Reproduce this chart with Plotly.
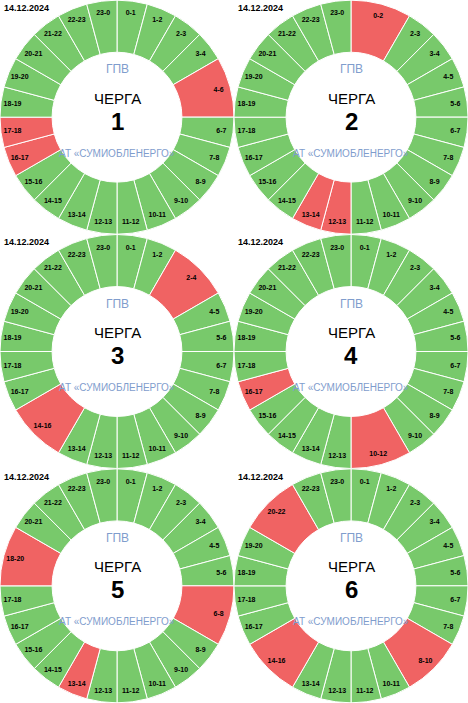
import plotly.graph_objects as go

# schedule for 14.12.2024, outage intervals per queue (label = "start-end" hour)
date_label = "14.12.2024"
queue_names = ["1", "2", "3", "4", "5", "6"]

q1_off = ["4-6", "16-17", "17-18"]
q2_off = ["0-2", "12-13", "13-14"]
q3_off = ["2-4", "14-16"]
q4_off = ["10-12", "16-17"]
q5_off = ["6-8", "13-14", "18-20"]
q6_off = ["8-10", "14-16", "20-22"]
all_off = [q1_off, q2_off, q3_off, q4_off, q5_off, q6_off]

title_top = "ГПВ"
title_mid = "ЧЕРГА"
title_bottom = "АТ «СУМИОБЛЕНЕРГО»"

GREEN = "#78c96b"
RED = "#f06363"
BLUE = "#7f9dcd"
FONT = "Liberation Sans, Arial"


def build_slices(off):
    starts = {int(s.split("-")[0]): s for s in off}
    labels, values, colors = [], [], []
    h = 0
    while h < 24:
        if h in starts:
            lab = starts[h]
            a, b = [int(v) for v in lab.split("-")]
            labels.append(lab)
            values.append(b - a)
            colors.append(RED)
            h = b
        else:
            labels.append("%d-%d" % (h, (h + 1) % 24))
            values.append(1)
            colors.append(GREEN)
            h += 1
    return labels, values, colors


fig = go.Figure()
annotations = []
for i, (name, off) in enumerate(zip(queue_names, all_off)):
    col, row = i % 2, i // 2
    dom_x = [col * 0.5, col * 0.5 + 0.5]
    dom_y = [1 - (row + 1) / 3, 1 - row / 3]
    labels, values, colors = build_slices(off)

    # coloured ring
    fig.add_trace(
        go.Pie(
            labels=labels,
            values=values,
            domain=dict(x=dom_x, y=dom_y),
            hole=0.555,
            sort=False,
            direction="clockwise",
            rotation=0,
            marker=dict(colors=colors, line=dict(color="white", width=1)),
            textinfo="none",
            showlegend=False,
            hoverinfo="label",
        )
    )
    # outer thin ring only used to place the hour labels near the rim
    fig.add_trace(
        go.Pie(
            labels=labels,
            values=values,
            text=labels,
            domain=dict(x=dom_x, y=dom_y),
            hole=0.8,
            sort=False,
            direction="clockwise",
            rotation=0,
            marker=dict(colors=["rgba(0,0,0,0)"] * len(labels), line=dict(width=0)),
            textinfo="text",
            textposition="inside",
            insidetextorientation="horizontal",
            textfont=dict(size=7, color="black", family=FONT, weight="bold"),
            showlegend=False,
            hoverinfo="skip",
        )
    )

    cx = (dom_x[0] + dom_x[1]) / 2
    cy = (dom_y[0] + dom_y[1]) / 2
    center_txt = [
        (title_top, 48, dict(size=12, color=BLUE, family=FONT)),
        (title_mid, 19, dict(size=15, color="black", family=FONT)),
        (name, -4, dict(size=24, color="black", family=FONT, weight="bold")),
        (title_bottom, -36, dict(size=10, color=BLUE, family=FONT)),
    ]
    for txt, shift, font in center_txt:
        annotations.append(
            dict(x=cx, y=cy, xref="paper", yref="paper", text=txt, showarrow=False,
                 yshift=shift, font=font, xanchor="center", yanchor="middle")
        )
    annotations.append(
        dict(x=dom_x[0], y=dom_y[1], xref="paper", yref="paper", text=date_label,
             showarrow=False, xanchor="left", yanchor="top", xshift=2, yshift=-1,
             font=dict(size=9, color="black", family=FONT, weight="bold"))
    )

fig.update_layout(
    width=468,
    height=703,
    margin=dict(l=0, r=0, t=0, b=0),
    paper_bgcolor="white",
    plot_bgcolor="white",
    uniformtext=dict(minsize=7, mode="show"),
    annotations=annotations,
)
fig.write_html(
    "out.html",
    config={"displayModeBar": False},
    post_script="document.body.style.margin='0';document.body.style.overflow='hidden';",
)
